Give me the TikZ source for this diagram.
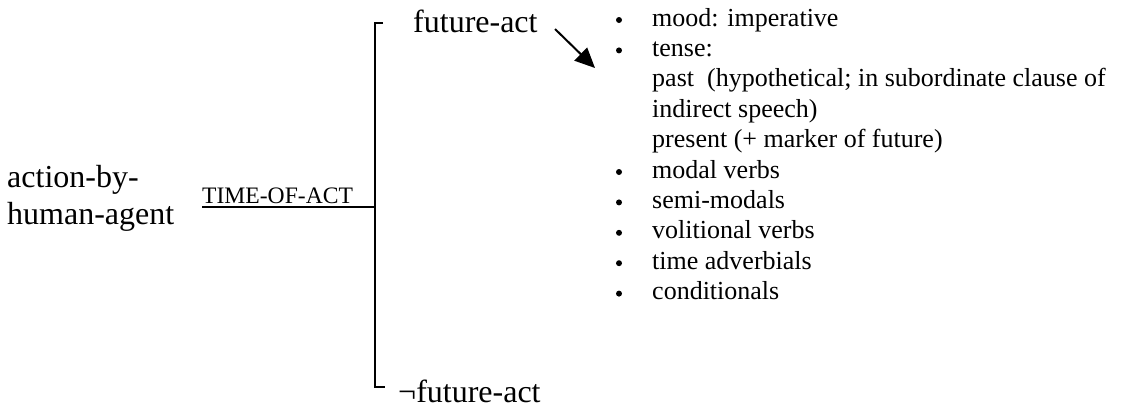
\documentclass[tikz,border=0pt]{standalone}
\usepackage{fontspec}
\setmainfont{Liberation Serif}
\usetikzlibrary{arrows.meta}
\begin{document}
\begin{tikzpicture}[x=1pt,y=-1pt,
  big/.style={anchor=base west,inner sep=0pt,font=\fontsize{32}{37}\selectfont},
  small/.style={anchor=base west,inner sep=0pt,font=\fontsize{23.6}{28}\selectfont},
  item/.style={anchor=base west,inner sep=0pt,font=\fontsize{26}{30}\selectfont},
  rule/.style={line width=2pt},
  dot/.style={fill=black}]
\useasboundingbox (0,0) rectangle (1131,408);
% left label
\node[big] (act1) at (7,187) {action-by-};
\node[big] (act2) at (7,224) {human-agent};
\node[small] (time) at (202,203) {TIME-OF-ACT};
% bracket
\coordinate (hstart) at (202,207);
\coordinate (junction) at (375,207);
\coordinate (topend) at (383,23);
\coordinate (topcorner) at (375,23);
\coordinate (botcorner) at (375,387);
\coordinate (botend) at (385,387);
\draw[rule] (hstart) -- (junction);
\draw[rule,line width=2.2pt] (topend) -- (topcorner) -- (botcorner) -- (botend);
% branch labels
\node[big] (fut) at (413,32) {future-act};
\node[big] (nfut) at (398,402) {¬future-act};
% arrow
\coordinate (astart) at (555,29);
\coordinate (aend) at (595,68);
\draw[rule,-{Triangle[length=20pt,width=18pt]}] (astart) -- (aend);
% list
\node[item] (l0) at (652,26.0) {mood: imperative};
\node[item] (l1) at (652,56.4) {tense:};
\node[item] (l2) at (652,86.8) {past~ (hypothetical; in subordinate clause of};
\node[item] (l3) at (652,117.2) {indirect speech)};
\node[item] (l4) at (652,147.6) {present (+ marker of future)};
\node[item] (l5) at (652,178.0) {modal verbs};
\node[item] (l6) at (652,208.4) {semi-modals};
\node[item] (l7) at (652,238.8) {volitional verbs};
\node[item] (l8) at (652,269.2) {time adverbials};
\node[item] (l9) at (652,299.6) {conditionals};
\foreach \y in {26.0,56.4,178.0,208.4,238.8,269.2,299.6}
  \fill[dot] (619,\y-6) circle (3);
\end{tikzpicture}
\end{document}
